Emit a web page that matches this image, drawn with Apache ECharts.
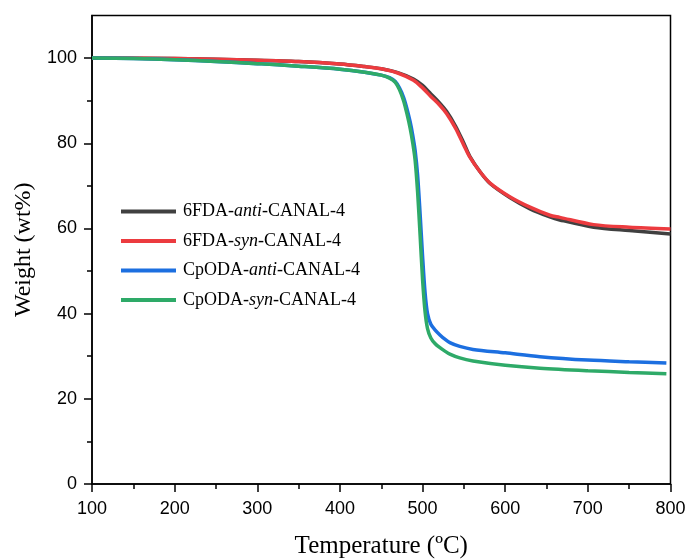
<!DOCTYPE html>
<html>
<head>
<meta charset="utf-8">
<script src="https://cdn.jsdelivr.net/npm/echarts@6/dist/echarts.min.js"></script>
<style>html,body{margin:0;padding:0;background:#fff}#c{width:691px;height:560px}</style>
</head>
<body>
<div id="c"></div>
<script>
// ---- data ----
const seriesNames = ['6FDA-anti-CANAL-4', '6FDA-syn-CANAL-4', 'CpODA-anti-CANAL-4', 'CpODA-syn-CANAL-4'];
const temp6FDA = [100,200,300,350,400,430,450,470,489,500,510,520,529,540,550,557,570,582,606,630,654,666,707,750,800];
const w6FDAanti = [100,99.9,99.5,99.2,98.6,98.0,97.5,96.6,95.1,93.6,91.6,89.6,87.5,84.0,80.0,77.0,73.2,70.5,67.2,64.6,62.7,62.0,60.3,59.5,58.7];
const w6FDAsyn  = [100,99.9,99.5,99.2,98.6,98.0,97.5,96.5,94.8,93.0,91.0,89.1,87.0,83.5,79.5,76.8,73.2,70.6,67.4,65.0,63.1,62.6,60.9,60.3,59.9];
const tempCpODA = [100,150,200,250,300,350,400,430,450,460,467,472,477,481,485,488,491,494,497,500,503,506,510,515,521,527,533,545,561,600,642,700,750,795];
const wCpODAanti = [100,99.9,99.6,99.2,98.7,98.1,97.4,96.7,96.0,95.4,94.5,93.0,90.8,88.2,85.0,82.0,78.3,72.5,63.5,53.5,45.0,40.0,37.5,36.2,35.0,34.0,33.2,32.3,31.6,30.8,29.9,29.1,28.7,28.4];
const wCpODAsyn  = [100,99.9,99.6,99.2,98.7,98.1,97.4,96.7,96.0,95.3,94.3,92.6,90.0,87.0,83.5,80.2,76.0,68.5,58.5,48.0,40.5,36.5,34.3,33.0,32.0,31.2,30.5,29.6,28.9,27.9,27.2,26.6,26.2,25.9];
const yMajorTicks = [0,20,40,60,80,100];
const yMinorTicks = [10,30,50,70,90];
const colors = ['#404040', '#ec3b3f', '#1c6fe0', '#2eaa68'];

function pairs(xs, ys){ return xs.map((x,i)=>[x, ys[i]]); }

const chart = echarts.init(document.getElementById('c'));
const sans = 'Liberation Sans';
const serif = 'Liberation Serif';
const mkSeries = (name, xs, ys, color) => ({
  name, type:'line', data: pairs(xs, ys), showSymbol:false, symbol:'none',
  smooth: 0.3,
  lineStyle:{color, width:3.5}, itemStyle:{color}, z: 2
});
chart.setOption({
  animation:false,
  grid:{left:92, right:20.5, top:15.5, bottom:76, containLabel:false, outerBoundsMode:'none',
        show:true, borderColor:'#000', borderWidth:1.5},
  legend:{
    orient:'vertical', left:116, top:196.5, icon:'rect', itemWidth:55, itemHeight:4, itemGap:9.5,
    data: seriesNames,
    formatter: n => n.replace(/-(anti|syn)-/, '-{i|$1}-'),
    textStyle:{fontFamily:serif, fontSize:18, color:'#000', lineHeight:20, padding:[0,0,0,2],
      rich:{i:{fontFamily:serif, fontSize:18, fontStyle:'italic', color:'#000', lineHeight:20}}}
  },
  xAxis:{
    type:'value', min:100, max:800, interval:100,
    name:'Temperature (ºC)', nameLocation:'middle', nameGap:50,
    nameTextStyle:{fontFamily:serif, fontSize:25, color:'#000'},
    axisLine:{lineStyle:{color:'#000', width:1.5}},
    axisTick:{length:8, lineStyle:{color:'#000', width:1.5}},
    minorTick:{show:true, splitNumber:2, length:5, lineStyle:{color:'#000', width:1.5}},
    axisLabel:{fontFamily:sans, fontSize:18, color:'#000', margin:16},
    splitLine:{show:false}
  },
  yAxis:[{
    type:'value', min:0, max:110, interval:10,
    name:'Weight (wt%)', nameLocation:'middle', nameGap:48,
    nameTextStyle:{fontFamily:serif, fontSize:24, color:'#000'},
    axisLine:{lineStyle:{color:'#000', width:1.5}},
    axisTick:{length:8, customValues: yMajorTicks, lineStyle:{color:'#000', width:1.5}},
    axisLabel:{fontFamily:sans, fontSize:18, color:'#000', margin:15, customValues: yMajorTicks},
    splitLine:{show:false}
  },{
    type:'value', min:0, max:110, position:'left', offset:0,
    axisLine:{show:false},
    axisTick:{show:true, length:5, customValues: yMinorTicks, lineStyle:{color:'#000', width:1.5}},
    axisLabel:{show:false},
    splitLine:{show:false}
  }],
  series:[
    mkSeries(seriesNames[0], temp6FDA, w6FDAanti, colors[0]),
    mkSeries(seriesNames[1], temp6FDA, w6FDAsyn, colors[1]),
    mkSeries(seriesNames[2], tempCpODA, wCpODAanti, colors[2]),
    mkSeries(seriesNames[3], tempCpODA, wCpODAsyn, colors[3])
  ]
});
</script>
</body>
</html>
